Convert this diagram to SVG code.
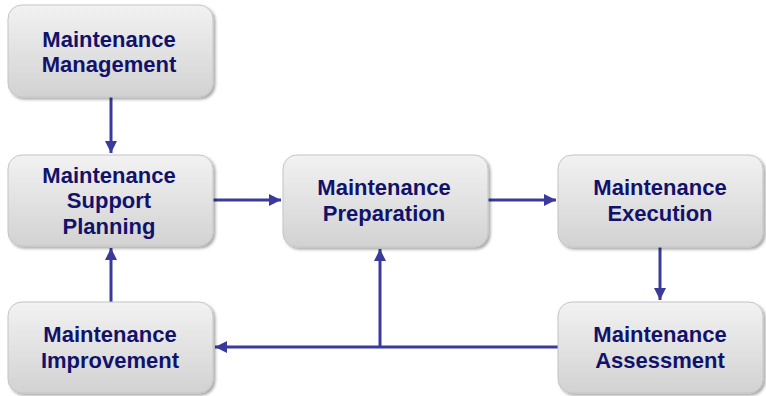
<svg xmlns="http://www.w3.org/2000/svg" width="766" height="396" viewBox="0 0 766 396">
<defs>
<linearGradient id="g" x1="0" y1="0" x2="0" y2="1">
<stop offset="0" stop-color="#f2f2f2"/>
<stop offset="1" stop-color="#d2d2d2"/>
</linearGradient>
<filter id="sh" x="-10%" y="-10%" width="125%" height="130%">
<feGaussianBlur in="SourceAlpha" stdDeviation="1.5"/>
<feOffset dx="1.5" dy="2" result="b"/>
<feComponentTransfer><feFuncA type="linear" slope="0.35"/></feComponentTransfer>
<feMerge><feMergeNode/><feMergeNode in="SourceGraphic"/></feMerge>
</filter>
<marker id="ah" viewBox="0 0 10 10" refX="10" refY="5" markerWidth="4" markerHeight="4" orient="auto" markerUnits="strokeWidth">
<path d="M0,0 L10,5 L0,10 z" fill="#3a3a9c"/>
</marker>
</defs>
<style>
.box{fill:url(#g);stroke:#c4c4c4;stroke-width:1;filter:url(#sh)}
.t{font-family:"Liberation Sans",Arial,sans-serif;font-weight:bold;font-size:22px;fill:#12126a;text-anchor:middle}
.c{stroke:#3a3a9c;stroke-width:3;fill:none}
</style>
<g id="connectors">
<line class="c" x1="111" y1="97" x2="111" y2="153" marker-end="url(#ah)"/>
<line class="c" x1="213" y1="200" x2="281" y2="200" marker-end="url(#ah)"/>
<line class="c" x1="488" y1="200" x2="556" y2="200" marker-end="url(#ah)"/>
<line class="c" x1="660" y1="247" x2="660" y2="300" marker-end="url(#ah)"/>
<line class="c" x1="558" y1="347" x2="215" y2="347" marker-end="url(#ah)"/>
<line class="c" x1="380" y1="347" x2="380" y2="249" marker-end="url(#ah)"/>
<line class="c" x1="111" y1="302" x2="111" y2="248" marker-end="url(#ah)"/>
</g>
<g id="management">
<rect class="box" x="8" y="5" width="205" height="92" rx="14"/>
<text class="t" x="109" y="47">Maintenance</text>
<text class="t" x="109" y="72">Management</text>
</g>
<g id="support">
<rect class="box" x="8" y="155" width="205" height="91" rx="14"/>
<text class="t" x="109" y="183">Maintenance</text>
<text class="t" x="109" y="208">Support</text>
<text class="t" x="109" y="234">Planning</text>
</g>
<g id="preparation">
<rect class="box" x="283" y="155" width="205" height="92" rx="14"/>
<text class="t" x="384" y="195">Maintenance</text>
<text class="t" x="384" y="221">Preparation</text>
</g>
<g id="execution">
<rect class="box" x="558" y="155" width="205" height="92" rx="14"/>
<text class="t" x="660" y="195">Maintenance</text>
<text class="t" x="660" y="221">Execution</text>
</g>
<g id="assessment">
<rect class="box" x="558" y="302" width="205" height="91" rx="14"/>
<text class="t" x="660" y="342">Maintenance</text>
<text class="t" x="660" y="368">Assessment</text>
</g>
<g id="improvement">
<rect class="box" x="8" y="302" width="205" height="91" rx="14"/>
<text class="t" x="110" y="342">Maintenance</text>
<text class="t" x="110" y="368">Improvement</text>
</g>
</svg>
